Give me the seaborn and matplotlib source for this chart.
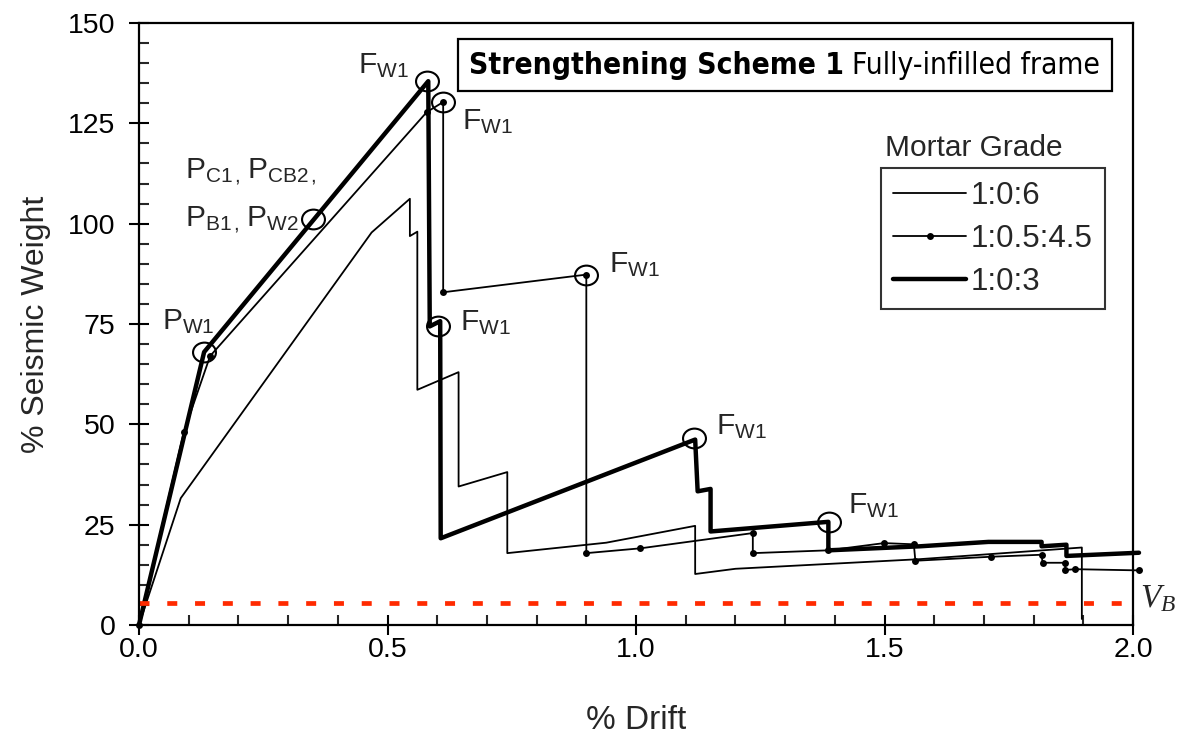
import matplotlib
matplotlib.use("Agg")
import matplotlib.pyplot as plt
import seaborn as sns
import numpy as np
from matplotlib.path import Path
from matplotlib.transforms import Affine2D
from matplotlib.offsetbox import TextArea, HPacker, AnnotationBbox
from matplotlib import font_manager

# ---------------- data ----------------
# Mortar grade 1:0:6 (thin line)
drift_106 = [0.0, 0.084, 0.468, 0.545, 0.545, 0.560, 0.560, 0.643, 0.643, 0.741, 0.741,
             0.940, 1.119, 1.119, 1.200, 1.571, 1.897, 1.897]
sw_106 = [0.0, 31.6, 97.8, 106.2, 96.9, 98.0, 58.6, 63.0, 34.5, 38.1, 17.9,
          20.5, 24.7, 12.7, 14.0, 16.4, 19.3, 1.5]

# Mortar grade 1:0.5:4.5 (thin line with dots)
drift_1054 = [0.0, 0.090, 0.143, 0.579, 0.612, 0.612, 0.900, 0.900, 1.009, 1.235, 1.235,
              1.387, 1.499, 1.559, 1.562, 1.714, 1.816, 1.818, 1.863, 1.864, 1.883, 2.012]
sw_1054 = [0.0, 48.0, 67.0, 127.8, 130.3, 82.9, 87.3, 17.9, 19.1, 22.9, 17.9,
           18.6, 20.4, 20.1, 16.0, 17.0, 17.5, 15.5, 15.5, 13.7, 13.9, 13.6]

# Mortar grade 1:0:3 (thick line)
drift_103 = [0.0, 0.131, 0.582, 0.585, 0.606, 0.607, 1.119, 1.124, 1.150, 1.150, 1.387,
             1.387, 1.571, 1.709, 1.816, 1.816, 1.866, 1.866, 2.012]
sw_103 = [0.0, 68.0, 135.5, 74.4, 75.7, 21.6, 46.2, 33.3, 33.9, 23.3, 25.7,
          18.6, 19.6, 20.7, 20.7, 19.6, 20.0, 17.2, 18.0]

series_labels = ["1:0:6", "1:0.5:4.5", "1:0:3"]

# circled events
circle_drift = [0.131, 0.351, 0.580, 0.612, 0.602, 0.900, 1.117, 1.388]
circle_sw = [68.1, 101.1, 135.5, 130.3, 74.4, 87.3, 46.7, 25.7]

# event labels (left edge, baseline)
fw_label_drift = [0.440, 0.649, 0.645, 0.946, 1.161, 1.427]
fw_label_sw = [137.3, 123.5, 73.4, 87.8, 47.4, 27.6]
p_labels = [r"$\mathrm{P}_{\mathrm{W1}}$",
            r"$\mathrm{P}_{\mathrm{C1}\,,}\,\mathrm{P}_{\mathrm{CB2}\,,}$",
            r"$\mathrm{P}_{\mathrm{B1}\,,}\,\mathrm{P}_{\mathrm{W2}}$"]
p_label_drift = [0.046, 0.093, 0.093]
p_label_sw = [73.6, 111.4, 99.4]

title_bold = "Strengthening Scheme 1"
title_rest = "Fully-infilled frame"

vb_level = 5.5
x_ticks = [0.0, 0.5, 1.0, 1.5, 2.0]
x_ticklabels = ["0.0", "0.5", "1.0", "1.5", "2.0"]
y_ticks = [0, 25, 50, 75, 100, 125, 150]
y_ticklabels = ["0", "25", "50", "75", "100", "125", "150"]

# ---------------- style ----------------
sns.set_theme(style="ticks")
fl = font_manager.fontManager.ttflist
names = {f.name for f in fl}
if "Liberation Sans Narrow" in names:
    narrow, stretch, tsize = "Liberation Sans Narrow", "normal", 22
elif any(f.name == "DejaVu Sans" and f.stretch == "condensed" for f in fl):
    narrow, stretch, tsize = "DejaVu Sans", "condensed", 21.5
else:
    narrow, stretch, tsize = "DejaVu Sans", "normal", 20
plt.rcParams["font.family"] = ["Liberation Sans", "DejaVu Sans"]
plt.rcParams["mathtext.fontset"] = "custom"
plt.rcParams["mathtext.rm"] = "Liberation Sans"
plt.rcParams["mathtext.it"] = "Liberation Serif:italic"
plt.rcParams["mathtext.bf"] = "Liberation Sans:bold"
plt.rcParams["lines.scale_dashes"] = False

fig = plt.figure(figsize=(11.8, 7.39), dpi=100)
ax = fig.add_axes([0.1178, 0.1543, 0.8424, 0.8146])

sns.lineplot(x=drift_106, y=sw_106, sort=False, estimator=None, color="black",
             lw=1.3, ax=ax, label=series_labels[0], clip_on=False)
sns.lineplot(x=drift_1054, y=sw_1054, sort=False, estimator=None, color="black",
             lw=1.3, marker="o", markersize=5, markeredgewidth=0, ax=ax,
             label=series_labels[1], clip_on=False)
sns.lineplot(x=drift_103, y=sw_103, sort=False, estimator=None, color="black",
             lw=3.2, ax=ax, label=series_labels[2], clip_on=False)

# V_B dashed line
sns.lineplot(x=[0.0, 2.01], y=[vb_level, vb_level], color="#ff2a00", lw=3.4,
             dashes=False, ax=ax, clip_on=False)
ax.lines[-1].set_dashes((7.2, 12.8))

# ellipse markers
ell = Path.unit_circle().transformed(Affine2D().scale(1.16, 1.0))
ax.plot(circle_drift, circle_sw, ls="none", marker=ell, ms=16.5, mfc="none",
        mec="black", mew=1.5, clip_on=False)

for xd, yd in zip(fw_label_drift, fw_label_sw):
    ax.text(xd, yd, r"$\mathrm{F}_{\mathrm{W1}}$", fontsize=21.5, ha="left", va="baseline")
for s, xd, yd in zip(p_labels, p_label_drift, p_label_sw):
    ax.text(xd, yd, s, fontsize=21.5, ha="left", va="baseline")

ax.text(2.014, 4.5, r"$V_{B}$", fontsize=24, ha="left", va="baseline", clip_on=False)

# title box
tp = dict(family=narrow, fontstretch=stretch, fontsize=tsize, color="black")
ta1 = TextArea(title_bold, textprops=dict(tp, fontweight="bold"))
ta2 = TextArea(title_rest, textprops=tp)
pack = HPacker(children=[ta1, ta2], align="baseline", pad=0, sep=6)
ab = AnnotationBbox(pack, (1.299, 139.5), xycoords="data", frameon=True,
                    box_alignment=(0.5, 0.5),
                    bboxprops=dict(boxstyle="square,pad=0.75", fc="white", ec="black", lw=1.6))
ax.add_artist(ab)

# legend
ax.text(1.501, 116.9, "Mortar Grade", fontsize=21.5, ha="left", va="baseline")
leg = ax.legend(loc="upper left", bbox_to_anchor=(0.746, 0.759), numpoints=1,
                frameon=True, fancybox=False, fontsize=22.5, handlelength=2.35,
                handletextpad=0.12, labelspacing=0.42, borderpad=0.4, borderaxespad=0)
leg.get_frame().set_edgecolor("black")
leg.get_frame().set_linewidth(1.5)

ax.set_xlim(0, 2.0)
ax.set_ylim(0, 150)
ax.set_xticks(x_ticks)
ax.set_xticklabels(x_ticklabels)
ax.set_yticks(y_ticks)
ax.set_yticklabels(y_ticklabels)
ax.set_xticks(np.arange(0, 2.001, 0.1), minor=True)
ax.set_yticks(np.arange(0, 150.1, 5), minor=True)
ax.tick_params(which="major", direction="inout", length=14, width=1.5, labelsize=20.5,
               colors="black")
ax.tick_params(axis="x", which="major", pad=1.5)
ax.tick_params(axis="y", which="major", pad=10)
ax.tick_params(which="minor", direction="in", length=7, width=1.5)
ax.tick_params(axis="x", which="both", top=False)
ax.tick_params(axis="y", which="both", right=False)
for sp in ax.spines.values():
    sp.set_visible(True)
    sp.set_linewidth(1.6)
    sp.set_color("black")

ax.set_xlabel("% Drift", fontsize=24)
ax.set_ylabel("% Seismic Weight", fontsize=23)
ax.xaxis.set_label_coords(0.5, -0.133)
ax.yaxis.set_label_coords(-0.089, 0.5)

fig.savefig("out.png", dpi=100)
